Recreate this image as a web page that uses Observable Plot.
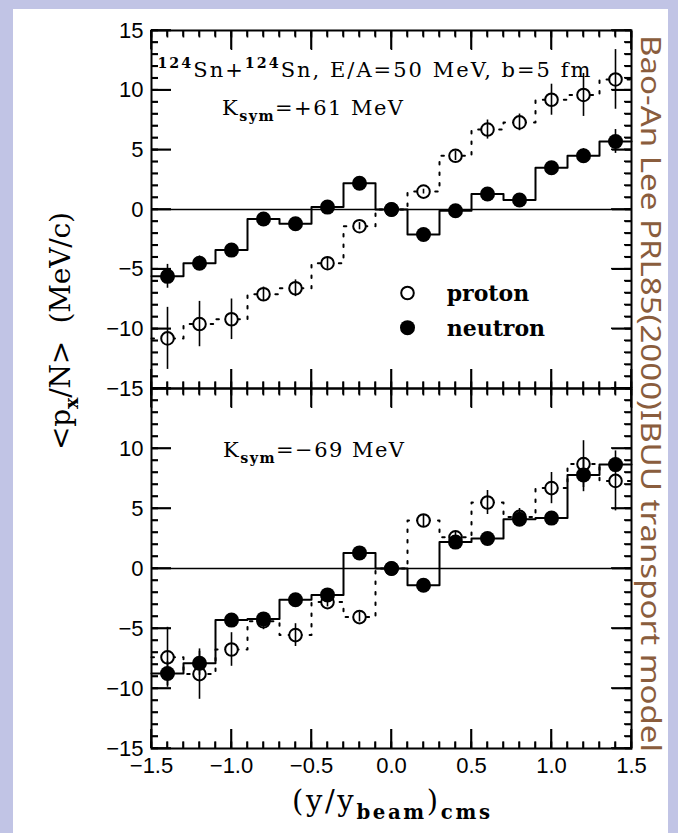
<!DOCTYPE html>
<html>
<head>
<meta charset="utf-8">
<script src="https://cdn.jsdelivr.net/npm/d3@7"></script>
<script src="https://cdn.jsdelivr.net/npm/@observablehq/plot@0.6"></script>
<style>
html, body { margin:0; padding:0; }
body { width:678px; height:833px; position:relative; overflow:hidden; background:#c1c4e5; }
#paper { position:absolute; left:13px; top:9px; width:655px; height:824px; background:#fff; }
.panel { position:absolute; left:0; width:678px; }
.panel svg { overflow:visible; }
#overlay { position:absolute; left:0; top:0; pointer-events:none; }
</style>
</head>
<body>
<div id="paper"></div>
<div id="topPanel" class="panel" style="top:0px"></div>
<div id="bottomPanel" class="panel" style="top:378px"></div>
<svg id="overlay" width="678" height="833"></svg>
<script>
// ---------------- data ----------------
const rapidity = [-1.4, -1.2, -1.0, -0.8, -0.6, -0.4, -0.2, 0.0, 0.2, 0.4, 0.6, 0.8, 1.0, 1.2, 1.4];
const binHalfWidth = 0.1;

// K_sym = +61 MeV (upper panel)
const neutronPlus61    = [-5.6, -4.5, -3.4, -0.8, -1.2, 0.2, 2.2, 0.0, -2.1, -0.1, 1.3, 0.8, 3.5, 4.5, 5.7];
const neutronPlus61Err = [1.0, 0.6, 0.3, 0.3, 0.3, 0.3, 0.3, 0.3, 0.3, 0.3, 0.3, 0.3, 0.4, 0.6, 1.0];
const protonPlus61     = [-10.8, -9.6, -9.2, -7.1, -6.6, -4.5, -1.4, 0.0, 1.5, 4.5, 6.7, 7.3, 9.2, 9.6, 10.9];
const protonPlus61Err  = [2.6, 1.9, 1.7, 0.6, 0.7, 0.5, 0.3, 0.2, 0.2, 0.4, 0.8, 0.7, 1.3, 1.8, 2.5];

// K_sym = -69 MeV (lower panel)
const neutronMinus69    = [-8.75, -7.9, -4.3, -4.2, -2.6, -2.2, 1.3, 0.0, -1.4, 2.2, 2.5, 4.1, 4.2, 7.8, 8.66];
const neutronMinus69Err = [1.0, 1.0, 0.4, 0.4, 0.3, 0.3, 0.3, 0.3, 0.3, 0.3, 0.3, 0.5, 0.4, 1.4, 0.6];
const protonMinus69     = [-7.4, -8.8, -6.75, -4.4, -5.55, -2.8, -4.05, 0.0, 4.0, 2.6, 5.5, 4.3, 6.7, 8.7, 7.3];
const protonMinus69Err  = [2.5, 2.1, 1.4, 0.7, 0.95, 0.4, 0.4, 0.2, 0.5, 0.4, 1.0, 0.7, 1.3, 1.95, 2.5];

// ticks
const xMajorTicks = [-1.5, -1.0, -0.5, 0.0, 0.5, 1.0, 1.5];
const xMinorTicks = d3.range(-15, 16).map(i => i / 10);
const yMajorTicks = [-15, -10, -5, 0, 5, 10, 15];
const yMinorTicks = d3.range(-15, 16);
const yTickLabelsTop = [15, 10, 5, 0, -5, -10, -15];
const yTickLabelsBottom = [10, 5, 0, -5, -10, -15];

// legend
const legendLabels = ["proton", "neutron"];
const legendOpen = [true, false];

// --------------- helpers ---------------
const serif = "DejaVu Serif";
const sans = "Liberation Sans";
const xDomain = [-1.5, 1.5], yDomain = [-15, 15];
const tickLen = {xMinor: 6.5, xMajor: 19, yMinor: 7, yMajor: 20};

function stepPoints(values) {
  return rapidity.flatMap((x, i) => [
    {x: x - binHalfWidth, y: values[i]},
    {x: x + binHalfWidth, y: values[i]}
  ]);
}

// inward ticks on all four sides, drawn with Plot's own axis marks (negative tick size = inward)
function frameTickAxes() {
  const s = {fill: "none", stroke: "black", strokeWidth: 1.6, label: null, tickFormat: () => ""};
  return [
    Plot.axisX({anchor: "top", ticks: xMinorTicks, tickSize: -tickLen.xMinor, ...s}),
    Plot.axisX({anchor: "top", ticks: xMajorTicks, tickSize: -tickLen.xMajor, ...s}),
    Plot.axisX({anchor: "bottom", ticks: xMinorTicks, tickSize: -tickLen.xMinor, ...s}),
    Plot.axisX({anchor: "bottom", ticks: xMajorTicks, tickSize: -tickLen.xMajor, ...s}),
    Plot.axisY({anchor: "left", ticks: yMinorTicks, tickSize: -tickLen.yMinor, ...s}),
    Plot.axisY({anchor: "left", ticks: yMajorTicks, tickSize: -tickLen.yMajor, ...s}),
    Plot.axisY({anchor: "right", ticks: yMinorTicks, tickSize: -tickLen.yMinor, ...s}),
    Plot.axisY({anchor: "right", ticks: yMajorTicks, tickSize: -tickLen.yMajor, ...s})
  ];
}

function panel({neutron, neutronErr, proton, protonErr, yLabels, showX, height, marginTop, marginBottom, legend}) {
  const marginLeft = 151, marginRight = 47, width = 678;
  const rows = rapidity.map((x, i) => ({x, n: neutron[i], ne: neutronErr[i], p: proton[i], pe: protonErr[i]}));
  const marks = [
    Plot.ruleY([0], {strokeWidth: 1.6}),
    Plot.line(stepPoints(proton), {x: "x", y: "y", strokeWidth: 2, strokeDasharray: "2.5,8"}),
    Plot.line(stepPoints(neutron), {x: "x", y: "y", strokeWidth: 2}),
    Plot.dot(rows, {x: "x", y: "p", r: 6.3, stroke: "black", strokeWidth: 2, fill: "white"}),
    Plot.ruleX(rows, {x: "x", y1: d => d.p - d.pe, y2: d => d.p + d.pe, strokeWidth: 1.6}),
    Plot.ruleX(rows, {x: "x", y1: d => d.n - d.ne, y2: d => d.n + d.ne, strokeWidth: 1.6}),
    Plot.dot(rows, {x: "x", y: "n", r: 7.5, fill: "black", stroke: "none"}),
    Plot.frame({strokeWidth: 2}),
    ...frameTickAxes(),
    Plot.axisY({anchor: "left", ticks: yLabels, tickSize: 0, tickPadding: 8, label: null,
      fontSize: 22, tickFormat: d3.format("d")})
  ];
  if (showX) {
    marks.push(Plot.axisX({anchor: "bottom", ticks: xMajorTicks, tickSize: 0, tickPadding: 9, label: null,
      fontSize: 22, tickFormat: d3.format(".1f")}));
  }
  if (legend) {
    const lg = legendLabels.map((label, i) => ({label, open: legendOpen[i], row: i}));
    const lx = 0.1, tx = 0.345, ly = [-7.0, -9.9];
    marks.push(
      Plot.dot(lg.filter(d => d.open), {x: () => lx, y: d => ly[d.row], r: 6.3, stroke: "black", strokeWidth: 2, fill: "white"}),
      Plot.dot(lg.filter(d => !d.open), {x: () => lx, y: d => ly[d.row], r: 7.5, fill: "black"}),
      Plot.text(lg, {x: () => tx, y: d => ly[d.row], text: "label", textAnchor: "start",
        fontFamily: serif, fontWeight: "bold", fontSize: 22, dy: 1})
    );
  }
  return Plot.plot({
    width, height, marginLeft, marginRight, marginTop, marginBottom,
    x: {domain: xDomain, label: null},
    y: {domain: yDomain, label: null},
    style: {fontFamily: sans, fontSize: "22px", color: "black", background: "transparent", overflow: "visible"},
    marks
  });
}

function richText(svg, x, y, parts, {size, family = serif, weight = "normal", length}) {
  const t = d3.select(svg).append("text")
    .attr("x", x).attr("y", y).attr("text-anchor", "start")
    .attr("font-family", family).attr("font-size", size).attr("font-weight", weight)
    .attr("fill", "black").style("white-space", "pre");
  let off = 0;
  for (const p of parts) {
    const target = p.sup ? -0.42 * size : p.sub ? 0.28 * size : 0;
    const ts = t.append("tspan").attr("dy", target - off).text(p.t);
    if (p.sup || p.sub) ts.attr("font-size", size * 0.68).attr("font-weight", "bold");
    off = target;
  }
  if (length) t.attr("textLength", length).attr("lengthAdjust", "spacing");
  return t;
}

// --------------- panels ---------------
const topPlot = panel({
  neutron: neutronPlus61, neutronErr: neutronPlus61Err,
  proton: protonPlus61, protonErr: protonPlus61Err,
  yLabels: yTickLabelsTop, showX: false, height: 400, marginTop: 30, marginBottom: 12, legend: true
});
document.getElementById("topPanel").appendChild(topPlot);

const bottomPlot = panel({
  neutron: neutronMinus69, neutronErr: neutronMinus69Err,
  proton: protonMinus69, protonErr: protonMinus69Err,
  yLabels: yTickLabelsBottom, showX: true, height: 455, marginTop: 10, marginBottom: 85, legend: false
});
document.getElementById("bottomPanel").appendChild(bottomPlot);

// annotations placed through the scales
{
  const sx = topPlot.scale("x"), sy = topPlot.scale("y");
  richText(topPlot, sx.apply(-1.46), sy.apply(11.1),
    [{t: "124", sup: true}, {t: "Sn+"}, {t: "124", sup: true}, {t: "Sn, E/A=50 MeV, b=5 fm"}],
    {size: 21, length: 433});
  richText(topPlot, sx.apply(-1.056), sy.apply(7.85),
    [{t: "K"}, {t: "sym", sub: true}, {t: "=+61 MeV"}],
    {size: 21, length: 181});
}
{
  const sx = bottomPlot.scale("x"), sy = bottomPlot.scale("y");
  richText(bottomPlot, sx.apply(-1.05), sy.apply(9.25),
    [{t: "K"}, {t: "sym", sub: true}, {t: "=\u221269 MeV"}],
    {size: 21, length: 181});
}

// axis titles and side note
const ov = document.getElementById("overlay");
{
  const g = d3.select(ov).append("g").attr("transform", "translate(70,331) rotate(-90)");
  richText(g.node(), -119, 0, [{t: "<p"}, {t: "x", sub: true}, {t: "/N>  (MeV/c)"}], {size: 28, length: 238});
}
richText(ov, 292, 811, [{t: "(y/y"}, {t: "beam", sub: true}, {t: ")"}, {t: "cms", sub: true}], {size: 29, length: 198});
d3.select(ov).append("text")
  .attr("transform", "translate(641,35) rotate(90)")
  .attr("font-family", "Noto Sans").attr("font-size", 27).attr("fill", "#8a5d3d")
  .attr("textLength", 717).attr("lengthAdjust", "spacingAndGlyphs")
  .text("Bao-An Lee PRL85(2000)IBUU transport model");

// backup inward frame ticks positioned through each plot's scales
for (const [plot, offsetTop] of [[topPlot, 0], [bottomPlot, 378]]) {
  const sx = plot.scale("x"), sy = plot.scale("y");
  const X0 = sx.apply(xDomain[0]), X1 = sx.apply(xDomain[1]);
  const Y0 = sy.apply(yDomain[0]) + offsetTop, Y1 = sy.apply(yDomain[1]) + offsetTop;
  const g = d3.select(ov).append("g").attr("stroke", "black").attr("stroke-width", 1.6);
  const seg = (x1, y1, x2, y2) => g.append("line").attr("x1", x1).attr("y1", y1).attr("x2", x2).attr("y2", y2);
  for (const [ticks, len] of [[xMinorTicks, tickLen.xMinor], [xMajorTicks, tickLen.xMajor]]) {
    for (const t of ticks) {
      const px = sx.apply(t);
      seg(px, Y1, px, Y1 + len);
      seg(px, Y0, px, Y0 - len);
    }
  }
  for (const [ticks, len] of [[yMinorTicks, tickLen.yMinor], [yMajorTicks, tickLen.yMajor]]) {
    for (const t of ticks) {
      const py = sy.apply(t) + offsetTop;
      seg(X0, py, X0 + len, py);
      seg(X1, py, X1 - len, py);
    }
  }
}
</script>
</body>
</html>
